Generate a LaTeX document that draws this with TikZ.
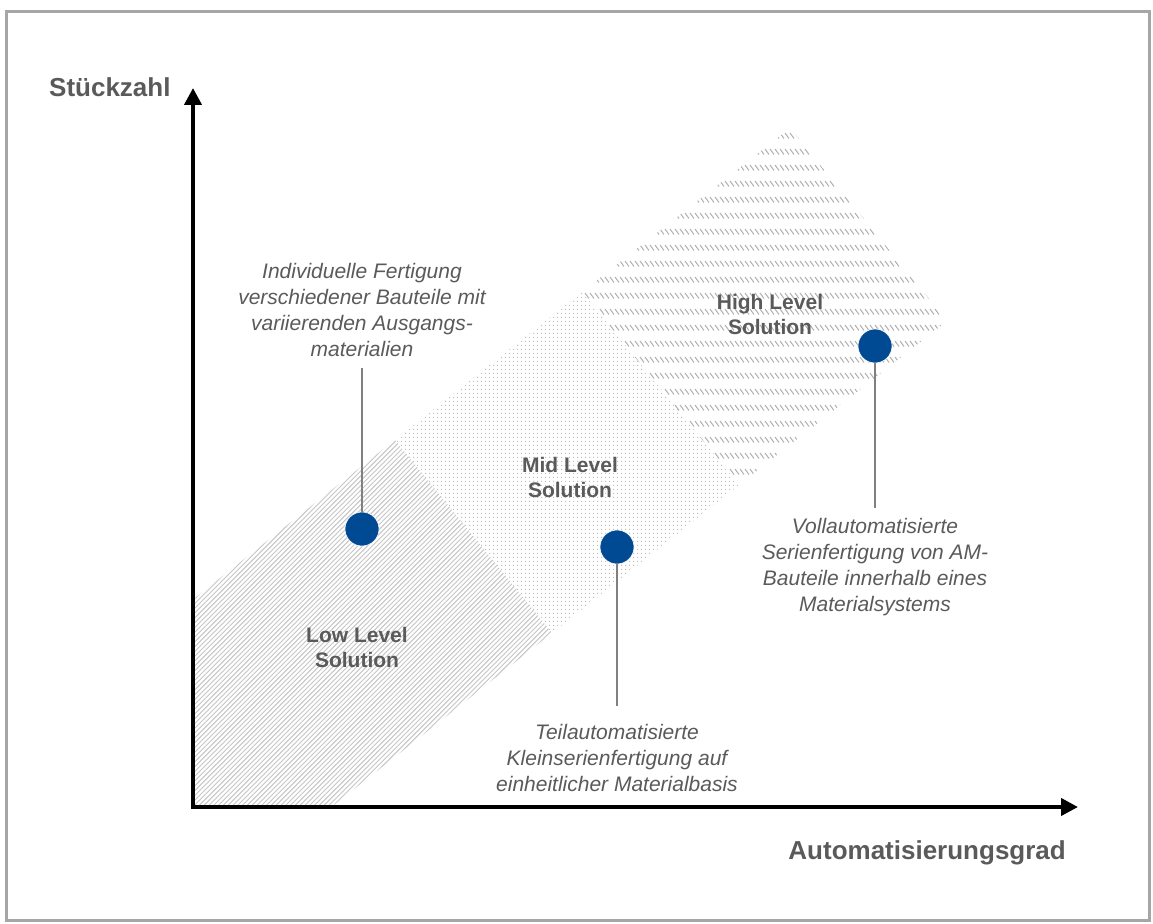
\documentclass[tikz,border=0pt]{standalone}
\usepackage{fontspec}
\setmainfont{Liberation Sans}
\usetikzlibrary{patterns,arrows.meta}
\definecolor{frameGray}{HTML}{A6A6A6}
\definecolor{txtGray}{HTML}{5A5A5A}
\definecolor{dotBlue}{HTML}{004A93}
\definecolor{lineGray}{HTML}{808080}
\definecolor{hatchGray}{HTML}{C6C6C6}
\definecolor{dotsGray}{HTML}{B8B8B8}
\definecolor{rowGray}{HTML}{B0B0B0}
\pgfdeclarepatternformonly{lowhatch}{\pgfqpoint{-1pt}{-1pt}}{\pgfqpoint{5.8pt}{5.8pt}}{\pgfqpoint{4.8pt}{4.8pt}}{%
  \pgfsetlinewidth{0.95pt}\pgfpathmoveto{\pgfqpoint{0pt}{0pt}}\pgfpathlineto{\pgfqpoint{4.9pt}{4.9pt}}\pgfusepath{stroke}}
\pgfdeclarepatternformonly{middots}{\pgfqpoint{0pt}{0pt}}{\pgfqpoint{4pt}{4pt}}{\pgfqpoint{4pt}{4pt}}{%
  \pgfpathcircle{\pgfqpoint{2pt}{2pt}}{0.85pt}\pgfusepath{fill}}
\pgfdeclarepatternformonly{highrows}{\pgfqpoint{-1pt}{-1pt}}{\pgfqpoint{6pt}{17pt}}{\pgfqpoint{5pt}{16pt}}{%
  \pgfsetlinewidth{1pt}\pgfpathmoveto{\pgfqpoint{0pt}{6pt}}\pgfpathlineto{\pgfqpoint{4pt}{0.5pt}}\pgfusepath{stroke}}
\tikzset{
  axislbl/.style={font=\fontsize{26}{30}\selectfont\bfseries, text=txtGray, inner sep=0pt},
  lvllbl/.style={font=\fontsize{21}{25}\selectfont\bfseries, text=txtGray, align=center, inner sep=0pt},
  desc/.style={font=\fontsize{21}{26}\selectfont\itshape, text=txtGray, align=center, inner sep=0pt},
  bluedot/.style={circle, fill=dotBlue, draw=white, line width=0.6pt, minimum size=34pt, inner sep=0pt},
  leader/.style={draw=lineGray, line width=2pt},
  axis/.style={line width=4pt, black},
}
\begin{document}
\begin{tikzpicture}[x=1pt,y=-1pt]
\useasboundingbox (0,0) rectangle (1153,923);
\draw[frameGray, line width=3pt] (6,12) rectangle (1149,920);
% band regions
\begin{scope}
  \clip (192,0) rectangle (1153,807);
  \fill[pattern=lowhatch, pattern color=hatchGray] (395,440) -- (552,633) -- (80,1005) -- (-76,812) -- cycle;
  \fill[pattern=middots, pattern color=dotsGray] (395,440) -- (582,292) -- (739,485) -- (552,633) -- cycle;
  \fill[pattern=highrows, pattern color=rowGray] (582,292) -- (790,128) -- (947,321) -- (739,485) -- cycle;
\end{scope}
% axes
\coordinate (o) at (193,807);
\coordinate (ytip) at (193,88);
\coordinate (xtip) at (1078,807);
\draw[axis, line join=miter, {Triangle[length=17pt,width=17pt]}-{Triangle[length=17pt,width=17pt]}] (ytip) -- (o) -- (xtip);
\node[axislbl, anchor=west] (ylab) at (49,87) {Stückzahl};
\node[axislbl, anchor=east] (xlab) at (1066,853) {Automatisierungsgrad};
% level labels
\node[lvllbl] (low) at (357,647) {Low Level\\Solution};
\node[lvllbl] (mid) at (570,477) {Mid Level\\Solution};
\node[lvllbl] (high) at (770,314) {High Level\\Solution};
% descriptions
\node[desc] (t1) at (362,310) {Individuelle Fertigung\\verschiedener Bauteile mit\\variierenden Ausgangs-\\materialien};
\node[desc] (t2) at (617,758) {Teilautomatisierte\\Kleinserienfertigung auf\\einheitlicher Materialbasis};
\node[desc] (t3) at (875,567) {Vollautomatisierte\\Serienfertigung von AM-\\Bauteile innerhalb eines\\Materialsystems};
% dots
\node[bluedot] (d1) at (362,529) {};
\node[bluedot] (d2) at (617,547) {};
\node[bluedot] (d3) at (875,346) {};
\coordinate (e1) at (362,368);
\coordinate (e2) at (617,706);
\coordinate (e3) at (875,508);
\draw[leader] (d1) -- (e1);
\draw[leader] (d2) -- (e2);
\draw[leader] (d3) -- (e3);
\end{tikzpicture}
\end{document}
